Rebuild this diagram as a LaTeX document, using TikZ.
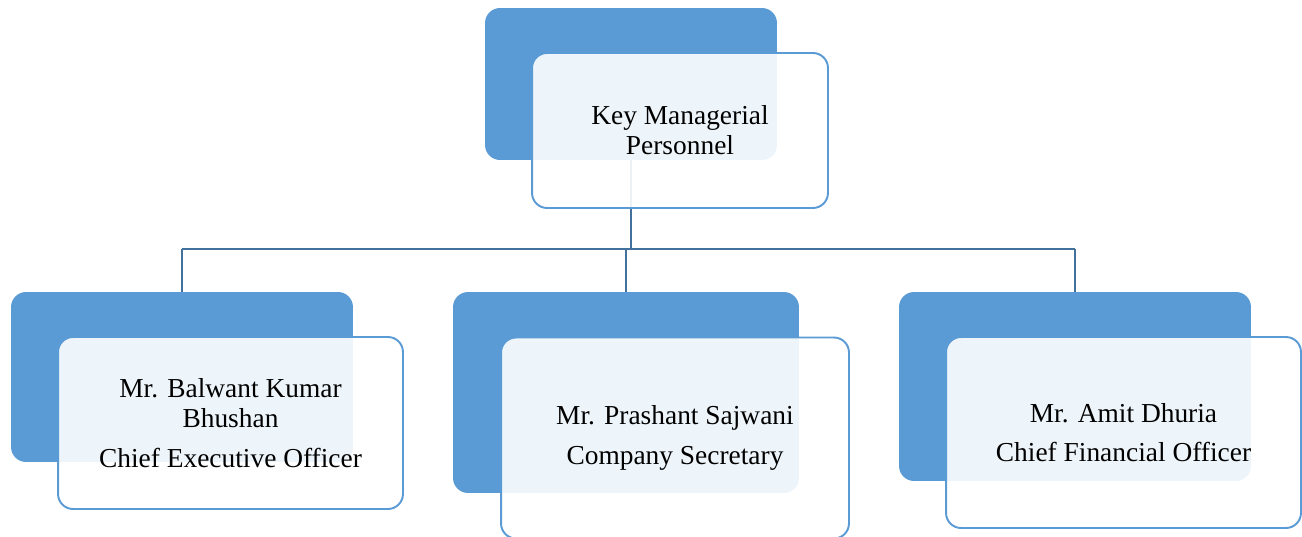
\documentclass[tikz,border=0pt]{standalone}
\usepackage{fontspec}
\setmainfont{Liberation Serif}
\definecolor{accent}{HTML}{5B9BD5}
\definecolor{linkblue}{HTML}{41719C}
\begin{document}
\begin{tikzpicture}[x=0.02cm, y=-0.02cm,
	backbox/.style={draw=none,fill=accent,rounded corners=0.3cm,inner sep=0pt},
	frontbox/.style={draw=accent,line width=1.1pt,fill=white,fill opacity=0.9,text opacity=1,
		rounded corners=0.3cm,inner sep=0pt,align=center,font=\fontsize{15.6}{17}\selectfont},
	link/.style={draw=linkblue,line width=1.6pt}]
	\useasboundingbox (0,0) rectangle (1302,537);
	
	\node[backbox, minimum width=5.84cm, minimum height=3.04cm] (kmpback) at (631, 84) {};
	\node[backbox, minimum width=6.84cm, minimum height=3.40cm] (ceoback) at (182, 377) {};
	\node[backbox, minimum width=6.92cm, minimum height=4.02cm] (csback) at (626, 392.5) {};
	\node[backbox, minimum width=7.04cm, minimum height=3.78cm] (cfoback) at (1075, 386.5) {};
	
	\coordinate (bus) at (631, 249);
	\path[link]
	(kmpback.south) edge (bus)
	(bus) edge (bus -| ceoback.north)
	(bus) edge (bus -| cfoback.north)
	(bus -| ceoback.north) edge (ceoback.north)
	(bus -| csback.north) edge (csback.north)
	(bus -| cfoback.north) edge (cfoback.north)
	;
	
	\node[frontbox, minimum width=5.92cm, minimum height=3.10cm] (kmp) at (680, 130.5) {Key Managerial\\Personnel};
	\node[frontbox, minimum width=6.90cm, minimum height=3.44cm] (ceo) at (230.5, 423) {Mr. Balwant Kumar\\Bhushan\\[5.5pt]Chief Executive Officer};
	\node[frontbox, minimum width=6.96cm, minimum height=4.02cm] (cs) at (675, 438) {Mr. Prashant Sajwani\\[5.5pt]Company Secretary};
	\node[frontbox, minimum width=7.10cm, minimum height=3.82cm] (cfo) at (1123.5, 432.5) {Mr. Amit Dhuria\\[5.5pt]Chief Financial Officer};
\end{tikzpicture}
\end{document}
